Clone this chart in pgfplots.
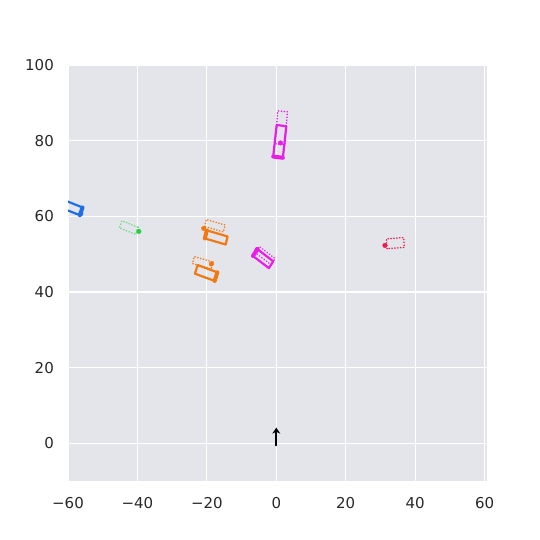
\documentclass[border=0pt]{standalone}
\usepackage{fontspec}
\setmainfont{DejaVu Sans}
\usepackage{pgfplots}
\pgfplotsset{compat=1.18}
\usetikzlibrary{arrows.meta}
\definecolor{bgc}{RGB}{227,229,234}
\definecolor{tickc}{RGB}{40,40,40}
\definecolor{mag}{RGB}{232,30,232}
\definecolor{org}{RGB}{242,120,20}
\definecolor{blu}{RGB}{30,110,230}
\definecolor{grn}{RGB}{40,205,70}
\definecolor{red}{RGB}{235,30,80}
\begin{document}
\fontsize{15bp}{18bp}\selectfont
\begin{tikzpicture}
\useasboundingbox (0,0) rectangle (540bp,540bp);
\begin{axis}[
  at={(68bp,59bp)}, anchor=south west,
  scale only axis, width=419bp, height=416bp,
  xmin=-60, xmax=60.7, ymin=-10, ymax=100,
  axis background/.style={fill=bgc},
  axis line style={draw=none},
  major tick length=0pt,
  grid=major,
  major grid style={white, line width=1.2bp},
  xtick={-60,-40,-20,0,20,40,60},
  xticklabels={−60,−40,−20,0,20,40,60},
  ytick={0,20,40,60,80,100},
  yticklabels={0,20,40,60,80,100},
  tick label style={font=\fontsize{15bp}{18bp}\selectfont, text=tickc},
  yticklabel style={xshift=-9bp},
  xticklabel style={yshift=-11bp},
  line join=round, line cap=round,
]
% --- magenta top: dotted (predicted) ---
\addplot[mag, line width=1.7bp, dash pattern=on 0.1bp off 2.8bp] coordinates {(2.454,78.920) (-0.336,79.164) (0.426,87.880) (3.216,87.636) (2.454,78.920)};
\addplot[mag, only marks, mark=*, mark size=2.3bp] coordinates {(1.2,79.4)};
% --- magenta top: solid ---
\addplot[mag, line width=2.2bp] coordinates {(1.893,75.463) (-0.887,75.795) (0.107,84.137) (2.887,83.805) (1.893,75.463)};
\addplot[mag, line width=4bp] coordinates {(1.893,75.463) (-0.887,75.795)};
% --- blue solid ---
\addplot[blu, line width=2.2bp] coordinates {(-55.82,62.332) (-56.58,60.268) (-61.272,61.994) (-60.512,64.058) (-55.82,62.332)};
\addplot[blu, line width=4bp] coordinates {(-55.82,62.332) (-56.58,60.268)};
\addplot[blu, only marks, mark=*, mark size=2.3bp] coordinates {(-56.3,60.7)};
% --- green dotted ---
\addplot[grn!70!white, line width=1.7bp, dash pattern=on 0.1bp off 2.8bp] coordinates {(-39.81,57.09) (-40.49,55.21) (-45.19,56.92) (-44.51,58.80) (-39.81,57.09)};
\addplot[grn, only marks, mark=*, mark size=2.3bp] coordinates {(-39.6,56.0)};
% --- orange upper ---
\addplot[org, line width=1.7bp, dash pattern=on 0.1bp off 2.8bp] coordinates {(-20.651,57.307) (-20.159,59.143) (-14.749,57.693) (-15.241,55.857) (-20.651,57.307)};
\addplot[org, only marks, mark=*, mark size=2.3bp] coordinates {(-20.9,56.8)};
\addplot[org, line width=2.2bp] coordinates {(-20.579,54.139) (-20.009,56.265) (-14.021,54.661) (-14.591,52.535) (-20.579,54.139)};
\addplot[org, line width=4bp] coordinates {(-20.579,54.139) (-20.009,56.265)};
% --- orange lower ---
\addplot[org, line width=1.7bp, dash pattern=on 0.1bp off 2.8bp] coordinates {(-18.249,47.893) (-18.741,46.057) (-24.151,47.507) (-23.659,49.343) (-18.249,47.893)};
\addplot[org, only marks, mark=*, mark size=2.3bp] coordinates {(-18.7,47.4)};
\addplot[org, line width=2.2bp] coordinates {(-16.973,45.175) (-17.743,42.901) (-23.427,44.825) (-22.657,47.099) (-16.973,45.175)};
\addplot[org, line width=4bp] coordinates {(-16.973,45.175) (-17.743,42.901)};
% --- magenta middle ---
\addplot[mag, line width=1.7bp, dash pattern=on 0.1bp off 2.8bp] coordinates {(-6.068,50.387) (-4.920,52.025) (-0.332,48.813) (-1.480,47.175) (-6.068,50.387)};
\addplot[mag, only marks, mark=*, mark size=2.3bp] coordinates {(-5.5,51.2)};
\addplot[mag, line width=2.2bp] coordinates {(-6.725,49.505) (-5.463,51.307) (-0.875,48.095) (-2.137,46.293) (-6.725,49.505)};
\addplot[mag, line width=4bp] coordinates {(-6.725,49.505) (-5.463,51.307)};
% --- red dotted ---
\addplot[red, line width=1.7bp, dash pattern=on 0.1bp off 2.8bp] coordinates {(31.897,51.428) (31.715,54.022) (36.703,54.372) (36.885,51.778) (31.897,51.428)};
\addplot[red, only marks, mark=*, mark size=2.3bp] coordinates {(31.3,52.3)};
% --- ego arrow ---
\addplot[black, line width=2bp, -{Stealth[length=6bp,width=8bp]}] coordinates {(0,-0.6) (0,4.1)};
\end{axis}
\end{tikzpicture}
\end{document}
